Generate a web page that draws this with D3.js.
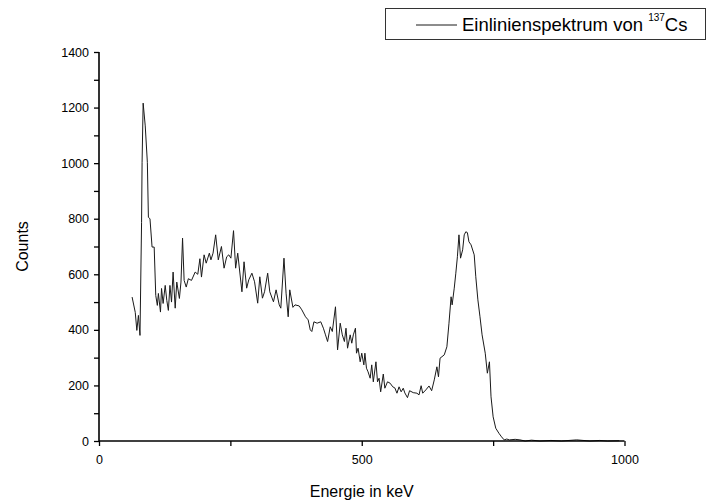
<!DOCTYPE html>
<html>
<head>
<meta charset="utf-8">
<script src="https://cdn.jsdelivr.net/npm/d3@7"></script>
<style>
  body { margin: 0; background: #fff; }
  svg { font-family: "Liberation Sans", Arial, sans-serif; }
</style>
</head>
<body>
<div id="plot"></div>
<script>
// Energy (keV) of each sample
const energy = [63, 69, 72, 75, 78, 81, 82, 84, 88, 92, 94, 97, 101, 105, 108, 111, 113, 117, 119, 122,
  126, 129, 132, 135, 138, 141, 145, 148, 153, 156, 159, 162, 166, 170, 176, 183, 188, 192, 195, 200,
  204, 210, 213, 217, 222, 227, 233, 238, 243, 247, 251, 256, 260, 264, 272, 276, 281, 285, 291, 296,
  302, 306, 311, 315, 321, 325, 332, 337, 343, 346, 352, 356, 360, 363, 369, 373, 381, 386, 393, 398,
  402, 405, 409, 415, 422, 427, 431, 435, 440, 444, 450, 454, 459, 463, 467, 470, 473, 478, 481, 484,
  488, 490, 493, 497, 500, 504, 506, 509, 512, 516, 519, 522, 527, 530, 533, 536, 541, 544, 549, 554,
  559, 563, 567, 571, 575, 579, 582, 587, 591, 598, 605, 609, 613, 616, 622, 628, 633, 638, 643, 646,
  649, 657, 662, 666, 670, 672, 676, 679, 682, 685, 688, 692, 695, 698, 701, 704, 708, 714, 717, 721,
  725, 729, 735, 739, 743, 746, 750, 755, 761, 766, 771, 776, 781, 792, 801, 811, 823, 839, 860, 880,
  909, 934, 953, 968, 990];

// Counts at those energies
const counts = [518, 463, 398, 452, 380, 787, 1003, 1216, 1134, 1003, 805, 800, 698, 698, 524, 488, 531, 464, 549, 495,
  560, 506, 470, 560, 500, 608, 478, 572, 513, 572, 730, 578, 554, 584, 578, 608, 600, 656, 590, 670,
  640, 676, 652, 676, 742, 652, 700, 622, 663, 670, 658, 757, 622, 676, 537, 645, 550, 580, 604, 573,
  496, 591, 514, 537, 604, 537, 501, 544, 490, 478, 658, 532, 447, 544, 481, 490, 486, 472, 447, 436,
  400, 394, 429, 424, 429, 406, 382, 358, 411, 394, 483, 328, 424, 382, 358, 406, 334, 382, 352, 382,
  406, 316, 334, 285, 316, 274, 316, 262, 249, 226, 274, 213, 285, 213, 226, 177, 241, 190, 213, 208,
  195, 191, 172, 195, 177, 190, 173, 156, 181, 174, 172, 166, 199, 172, 184, 198, 181, 220, 267, 231,
  298, 310, 339, 424, 519, 490, 550, 604, 663, 742, 658, 688, 742, 753, 750, 717, 706, 670, 591, 508,
  447, 382, 316, 244, 285, 159, 87, 46, 28, 15, 4, 7, 4, 6, 4, 0, 3, 0, 2, 0,
  4, 0, 2, 0, 1];

const xTicks = [0, 250, 500, 750, 1000];
const xLabels = [0, 500, 1000];
const yTicks = d3.range(0, 1401, 100);
const yLabels = [0, 200, 400, 600, 800, 1000, 1200, 1400];

const seriesName = "Einlinienspektrum von ";
const isotopeMass = "137";
const isotope = "Cs";

const width = 707, height = 500;
const margin = { left: 99, right: 82.5, top: 52, bottom: 59 };

const svg = d3.select("#plot").append("svg")
  .attr("width", width)
  .attr("height", height);

const x = d3.scaleLinear().domain([0, 1000]).range([margin.left, width - margin.right]);
const y = d3.scaleLinear().domain([0, 1400]).range([height - margin.bottom, margin.top]);

const points = energy.map((e, i) => ({ e: e, c: counts[i] }));

// spectrum line
svg.append("path")
  .datum(points)
  .attr("fill", "none")
  .attr("stroke", "#1a1a1a")
  .attr("stroke-width", 1)
  .attr("d", d3.line().x(d => x(d.e)).y(d => y(d.c)));

// axes
const xAxis = svg.append("g")
  .attr("transform", `translate(0,${y(0)})`)
  .call(d3.axisBottom(x)
    .tickValues(xTicks)
    .tickSize(5)
    .tickPadding(9)
    .tickFormat(d => xLabels.includes(d) ? d : ""));

const yAxis = svg.append("g")
  .attr("transform", `translate(${x(0)},0)`)
  .call(d3.axisLeft(y)
    .tickValues(yTicks)
    .tickSize(5)
    .tickPadding(5)
    .tickFormat(d => yLabels.includes(d) ? d : ""));

[xAxis, yAxis].forEach(g => {
  g.select(".domain").attr("stroke", "#000").attr("stroke-width", 1.6);
  g.selectAll(".tick line").attr("stroke", "#000").attr("stroke-width", 1.3);
  g.selectAll(".tick text")
    .attr("fill", "#000")
    .style("font-size", "12.5px")
    .style("font-family", "'Liberation Sans', Arial, sans-serif");
});
xAxis.select(".domain").attr("d", `M${x(0)},0H${x(1000)}`);
yAxis.select(".domain").attr("d", `M0,${y(0)}V${y(1400)}`);

// axis titles
svg.append("text")
  .attr("x", x(500))
  .attr("y", 497)
  .attr("text-anchor", "middle")
  .style("font-size", "16px")
  .text("Energie in keV");

svg.append("text")
  .attr("transform", `translate(28,${(y(0) + y(1400)) / 2}) rotate(-90)`)
  .attr("text-anchor", "middle")
  .style("font-size", "16px")
  .text("Counts");

// legend
const legend = svg.append("g");
legend.append("rect")
  .attr("x", 385.5)
  .attr("y", 8.5)
  .attr("width", 320)
  .attr("height", 31)
  .attr("fill", "#fff")
  .attr("stroke", "#333")
  .attr("stroke-width", 1);
legend.append("line")
  .attr("x1", 416).attr("x2", 457)
  .attr("y1", 25).attr("y2", 25)
  .attr("stroke", "#1a1a1a")
  .attr("stroke-width", 1);
const lt = legend.append("text")
  .attr("x", 462)
  .attr("y", 30.5)
  .style("font-size", "18.5px")
  .attr("fill", "#000");
lt.append("tspan").text(seriesName);
lt.append("tspan").attr("dy", -10).style("font-size", "10px").text(isotopeMass);
lt.append("tspan").attr("dy", 10).text(isotope);
</script>
</body>
</html>
